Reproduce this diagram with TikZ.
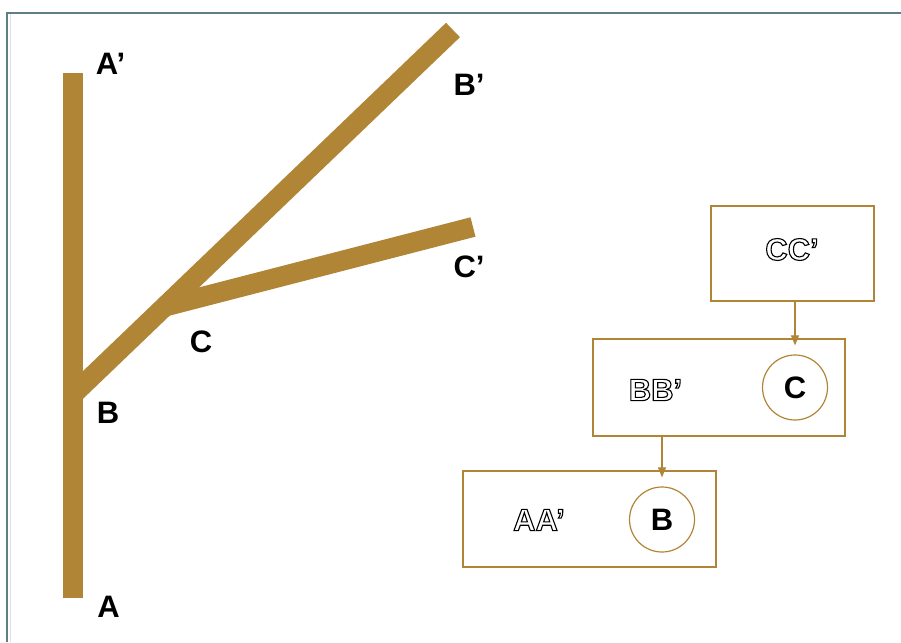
\documentclass[tikz,border=0pt]{standalone}
\usepackage{fontspec}
\setmainfont{Liberation Sans}
\usetikzlibrary{arrows.meta}
\definecolor{gold}{RGB}{176,134,54}
\definecolor{frame}{RGB}{94,127,134}
\newcommand{\outl}[1]{\special{pdf:literal direct 1 Tr 1.1 w}#1\special{pdf:literal direct 0 Tr}}
\tikzset{
  bar/.style={draw=gold, line width=20pt, line cap=butt},
  lbl/.style={inner sep=0pt, font=\bfseries\fontsize{31}{31}\selectfont},
  olbl/.style={inner sep=0pt, font=\bfseries\fontsize{31}{31}\selectfont},
  box/.style={draw=gold, line width=1.3pt, inner sep=0pt},
  ring/.style={draw=gold, line width=1.2pt, circle, minimum size=65pt, inner sep=0pt, font=\bfseries\fontsize{31}{31}\selectfont},
  link/.style={draw=gold, line width=1.1pt, -{Triangle[length=10pt,width=8pt]}, shorten >=-7pt}
}
\begin{document}
\begin{tikzpicture}[x=1pt,y=-1pt]
\useasboundingbox (0,0) rectangle (901,642);
\fill[white] (0,0) rectangle (901,642);
% frame
\draw[frame, line width=1.3pt] (7,642) -- (7,13) -- (901,13);
\draw[black!12, line width=0.8pt] (10,642) -- (10,14);
% branches
\coordinate (pA) at (72.5,598);
\coordinate (pA2) at (72.5,73);
\coordinate (pB0) at (72.5,395);
\coordinate (pB2) at (453,30);
\coordinate (pC0) at (165,306.5);
\coordinate (pC2) at (473,227);
\draw[bar] (pB0) -- (pB2);
\draw[bar] (pC0) -- (pC2);
\draw[bar] (pA) -- (pA2);
% labels
\node[lbl] (lA2) at (110.5,63.5) {A’};
\node[lbl] (lB2) at (469,85) {B’};
\node[lbl] (lC2) at (469,266.5) {C’};
\node[lbl] (lC) at (201,341.5) {C};
\node[lbl] (lB) at (108,413) {B};
\node[lbl] (lA) at (108.5,606.5) {A};
% boxes
\node[box, minimum width=163pt, minimum height=95pt] (cc) at (792.5,253.5) {};
\node[olbl] (cct) at (792,249.5) {\outl{CC’}};
\node[box, minimum width=252pt, minimum height=97pt] (bb) at (719,387.5) {};
\node[olbl] (bbt) at (655.5,390) {\outl{BB’}};
\node[ring] (cc0) at (795,387.5) {C};
\node[box, minimum width=253pt, minimum height=96pt] (aa) at (589.5,519) {};
\node[olbl] (aat) at (539,520) {\outl{AA’}};
\node[ring] (bb0) at (662,519.5) {B};
% links
\draw[link] (cc.south -| cc0) -- (bb.north -| cc0);
\draw[link] (bb.south -| bb0) -- (aa.north -| bb0);
\end{tikzpicture}
\end{document}
